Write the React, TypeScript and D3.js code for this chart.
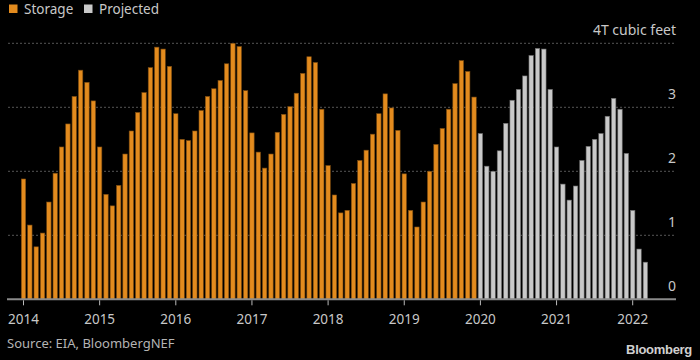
import React from "react";
import * as d3 from "d3";

const storage: number[] = [
  1.88, 1.16, 0.82, 1.035, 1.52, 1.97, 2.38, 2.74, 3.17, 3.58, 3.39, 3.1,
  2.38, 1.64, 1.46, 1.78, 2.27, 2.63, 2.92, 3.23, 3.62, 3.94, 3.91, 3.64,
  2.9, 2.5, 2.48, 2.63, 2.95, 3.17, 3.29, 3.42, 3.68, 4.0, 3.95, 3.26,
  2.6, 2.3, 2.05, 2.27, 2.61, 2.89, 3.01, 3.22, 3.53, 3.79, 3.7, 2.97,
  2.09, 1.63, 1.35, 1.39, 1.81, 2.17, 2.33, 2.58, 2.9, 3.21, 2.99, 2.64,
  1.96, 1.39, 1.13, 1.52, 2.0, 2.42, 2.67, 2.97, 3.37, 3.73, 3.56, 3.16,
];
const projected: number[] = [
  2.59, 2.08, 2.0, 2.32, 2.75, 3.11, 3.28, 3.49, 3.81, 3.92, 3.91, 3.28,
  2.38, 1.8, 1.55, 1.77, 2.17, 2.39, 2.5, 2.59, 2.86, 3.14, 2.97, 2.28,
  1.39, 0.785, 0.58,
];
const years: number[] = [2014, 2015, 2016, 2017, 2018, 2019, 2020, 2021, 2022];
const yTicks: number[] = [0, 1, 2, 3, 4];
const legendItems: string[] = ["Storage", "Projected"];

const W = 700;
const H = 360;
const ORANGE = "#E38B1E";
const ORANGE_EDGE = "#7a4a10";
const GRAY = "#C9C9C9";
const GRAY_EDGE = "#6a6a6a";
const FONT = "'Noto Sans', sans-serif";

export default function App() {
  const x = d3.scaleLinear().domain([0, 96]).range([23.5, 632.7]);
  const y = d3.scaleLinear().domain([0, 4]).range([299.3, 43.3]);
  const bw = 4.4;
  const left = 8;
  const right = 676;

  const bars = [
    ...storage.map((v, i) => ({ i, v, proj: false })),
    ...projected.map((v, j) => ({ i: storage.length + j, v, proj: true })),
  ];

  return (
    <svg
      width={W}
      height={H}
      style={{ position: "absolute", left: 0, top: 0, background: "#000" }}
    >
      <rect x={0} y={0} width={W} height={H} fill="#000" />
      {/* legend */}
      <rect x={9} y={4.5} width={8.5} height={8.5} fill={ORANGE} />
      <text x={24} y={13.5} fill="#c8c8c8" fontSize={13.5} fontFamily={FONT}>
        {legendItems[0]}
      </text>
      <rect x={84} y={4.5} width={8.5} height={8.5} fill={GRAY} />
      <text x={99} y={13.5} fill="#c8c8c8" fontSize={13.5} fontFamily={FONT}>
        {legendItems[1]}
      </text>

      {/* gridlines */}
      {yTicks
        .filter((t) => t > 0)
        .map((t) => (
          <line
            key={t}
            x1={left}
            x2={right}
            y1={y(t)}
            y2={y(t)}
            stroke="#555"
            strokeWidth={1}
            strokeDasharray="2,2"
          />
        ))}
      {/* y labels */}
      {yTicks.map((t) => (
        <text
          key={t}
          x={right}
          y={y(t) - 8}
          textAnchor="end"
          fill="#c8c8c8"
          fontSize={14}
          fontFamily={FONT}
        >
          {t === 4 ? "4T cubic feet" : String(t)}
        </text>
      ))}

      {/* bars */}
      {bars.map((b) => (
        <rect
          key={b.i}
          x={x(b.i) - bw / 2}
          y={y(b.v)}
          width={bw}
          height={y(0) - y(b.v)}
          fill={b.proj ? GRAY : ORANGE}
          stroke={b.proj ? GRAY_EDGE : ORANGE_EDGE}
          strokeWidth={0.6}
        />
      ))}

      {/* baseline */}
      <line x1={left - 1} x2={right} y1={y(0)} y2={y(0)} stroke="#8a8a8a" strokeWidth={2} />

      {/* x ticks */}
      {years.map((yr, k) => (
        <g key={yr}>
          <line
            x1={x(k * 12)}
            x2={x(k * 12)}
            y1={y(0) + 1}
            y2={y(0) + 6}
            stroke="#bbb"
            strokeWidth={1}
          />
          <text
            x={x(k * 12)}
            y={324}
            textAnchor="middle"
            fill="#c8c8c8"
            fontSize={13.5}
            fontFamily={FONT}
          >
            {yr}
          </text>
        </g>
      ))}

      {/* source */}
      <text x={7} y={348} fill="#b4b4b4" fontSize={13} fontFamily={FONT}>
        Source: EIA, BloombergNEF
      </text>
      <text
        x={692}
        y={354}
        textAnchor="end"
        fill="#d0d0d0"
        fontSize={13}
        fontWeight="bold"
        fontFamily="'Liberation Sans', Arial, sans-serif"
        letterSpacing={-0.3}
      >
        Bloomberg
      </text>
    </svg>
  );
}
